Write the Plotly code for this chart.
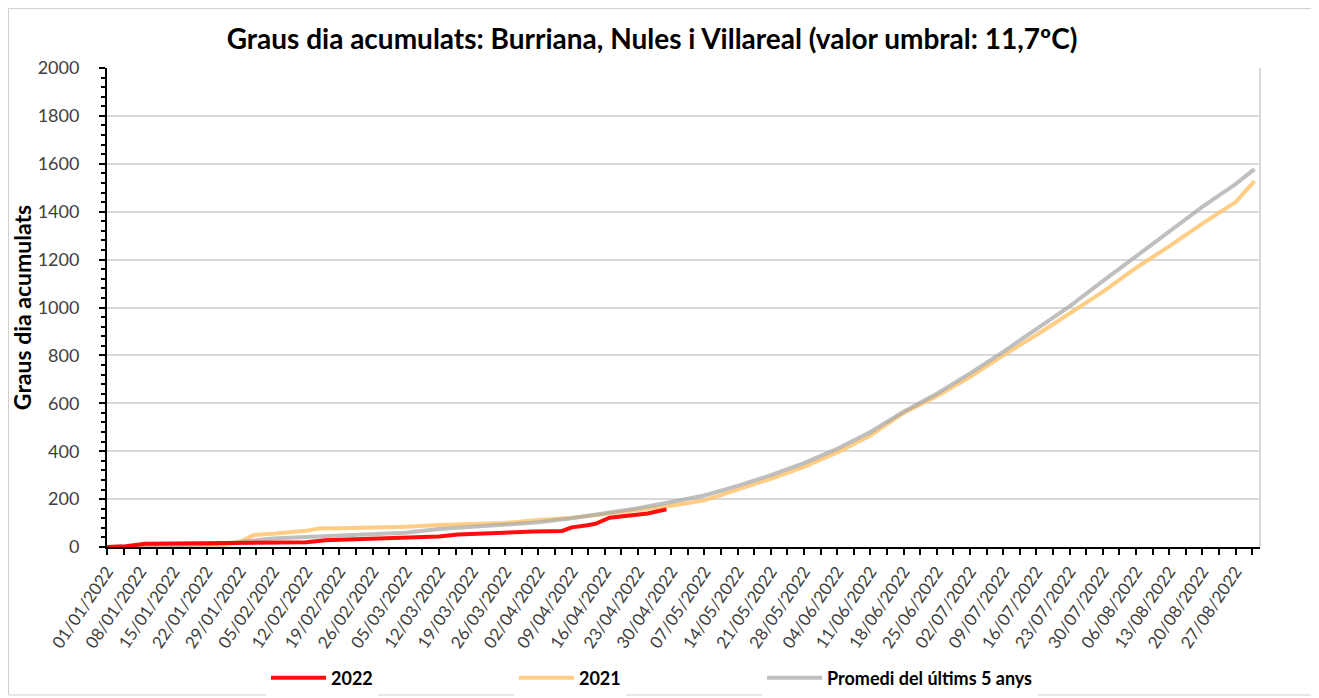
import plotly.graph_objects as go

# 2022 (red)
dates_2022 = ["2022-01-01", "2022-01-05", "2022-01-09", "2022-01-15", "2022-01-22", "2022-01-29",
              "2022-02-05", "2022-02-12", "2022-02-16", "2022-02-19", "2022-02-26", "2022-03-05",
              "2022-03-08", "2022-03-12", "2022-03-16", "2022-03-19", "2022-03-26", "2022-04-01",
              "2022-04-07", "2022-04-09", "2022-04-12", "2022-04-14", "2022-04-17", "2022-04-21",
              "2022-04-25", "2022-04-29"]
vals_2022 = [0, 3, 14, 15, 16, 16,
             18, 20, 28, 30, 33, 36,
             38, 44, 52, 55, 58, 65,
             67, 82, 90, 97, 122, 132,
             140, 157]

# 2021 (orange)
dates_2021 = ["2022-01-01", "2022-01-08", "2022-01-15", "2022-01-22", "2022-01-26", "2022-01-29",
              "2022-02-01", "2022-02-05", "2022-02-12", "2022-02-15", "2022-02-19", "2022-02-26",
              "2022-03-05", "2022-03-12", "2022-03-19", "2022-03-26", "2022-04-02", "2022-04-09",
              "2022-04-16", "2022-04-23", "2022-04-30", "2022-05-07", "2022-05-14", "2022-05-21",
              "2022-05-28", "2022-06-04", "2022-06-11", "2022-06-18", "2022-06-25", "2022-07-02",
              "2022-07-09", "2022-07-16", "2022-07-23", "2022-07-30", "2022-08-06", "2022-08-13",
              "2022-08-20", "2022-08-27", "2022-08-31"]
vals_2021 = [0, 1, 2, 3, 8, 22,
             50, 55, 68, 78, 78, 80,
             85, 92, 97, 100, 113, 122,
             138, 155, 172, 195, 240, 285,
             335, 395, 465, 560, 630, 710,
             800, 885, 975, 1065, 1165, 1255,
             1350, 1440, 1528]

# Promedi del últims 5 anys (gray)
dates_avg = ["2022-01-01", "2022-01-08", "2022-01-15", "2022-01-22", "2022-01-29", "2022-02-05",
             "2022-02-12", "2022-02-19", "2022-02-26", "2022-03-05", "2022-03-12", "2022-03-19",
             "2022-03-26", "2022-04-02", "2022-04-09", "2022-04-16", "2022-04-23", "2022-04-30",
             "2022-05-07", "2022-05-14", "2022-05-21", "2022-05-28", "2022-06-04", "2022-06-11",
             "2022-06-18", "2022-06-25", "2022-07-02", "2022-07-09", "2022-07-16", "2022-07-23",
             "2022-07-30", "2022-08-06", "2022-08-13", "2022-08-20", "2022-08-27", "2022-08-31"]
vals_avg = [0, 3, 7, 12, 20, 36,
            42, 48, 53, 60, 75, 85,
            92, 103, 120, 140, 162, 188,
            215, 255, 300, 350, 410, 480,
            565, 640, 725, 815, 910, 1005,
            1110, 1215, 1320, 1420, 1515, 1578]

DAY = 86400000

fig = go.Figure()
fig.add_trace(go.Scatter(x=dates_2021, y=vals_2021, mode="lines", name="2021", legend="legend2",
                         line=dict(color="rgba(255,196,110,0.85)", width=4)))
fig.add_trace(go.Scatter(x=dates_avg, y=vals_avg, mode="lines", name="Promedi del últims 5 anys",
                         legend="legend3", line=dict(color="rgba(170,170,170,0.75)", width=4)))
fig.add_trace(go.Scatter(x=dates_2022, y=vals_2022, mode="lines", name="2022", legend="legend",
                         line=dict(color="rgba(255,0,0,0.95)", width=4)))

# the page body has an 8px margin, so the figure is placed at (8, 8)
leg_font = dict(size=18, color="black", weight="bold")
leg_y = 0.0401
fig.update_layout(
    width=1319, height=698,
    paper_bgcolor="white", plot_bgcolor="white",
    margin=dict(l=99, r=67, t=60, b=159),
    font=dict(family="Lato, Open Sans, sans-serif", color="#404040"),
    title=dict(text="<b>Graus dia acumulats: Burriana, Nules i Villareal (valor umbral: 11,7ºC)</b>",
               x=0.4883, xanchor="center", y=0.956, yanchor="middle",
               font=dict(size=28, color="black")),
    legend=dict(orientation="h", xref="container", yref="container", x=0.1956, y=leg_y,
                xanchor="left", yanchor="middle", font=leg_font, itemwidth=55),
    legend2=dict(orientation="h", xref="container", yref="container", x=0.3836, y=leg_y,
                 xanchor="left", yanchor="middle", font=leg_font, itemwidth=55),
    legend3=dict(orientation="h", xref="container", yref="container", x=0.5717, y=leg_y,
                 xanchor="left", yanchor="middle", font=leg_font, itemwidth=55),
    showlegend=True,
)

fig.update_xaxes(
    type="date", range=["2022-01-01", "2022-09-01 04:00"],
    tick0="2022-01-01", dtick=7 * DAY, tickformat="%d/%m/%Y", tickangle=-56,
    ticks="outside", ticklen=6, tickwidth=2, tickcolor="black",
    minor=dict(dtick=3.5 * DAY, tick0="2022-01-01", ticks="outside", ticklen=6,
               tickwidth=2, tickcolor="black"),
    showline=True, linecolor="black", linewidth=2, showgrid=False, zeroline=False,
    tickfont=dict(size=17, color="#404040"), automargin=False,
)
fig.update_yaxes(
    range=[0, 2000], dtick=200,
    ticks="outside", ticklen=6, tickwidth=2, tickcolor="black",
    minor=dict(dtick=40, ticks="outside", ticklen=4, tickwidth=1.5, tickcolor="black"),
    showline=True, linecolor="black", linewidth=2,
    showgrid=True, gridcolor="#d9d9d9", gridwidth=1.5, zeroline=False,
    tickfont=dict(size=18, color="#404040"), ticklabelstandoff=16,
    title=dict(text="<b>Graus dia acumulats</b>", font=dict(size=23, color="black"), standoff=6),
    automargin=False,
)

# right border of plot area and outer chart border
fig.add_shape(type="line", xref="paper", yref="paper", x0=1, x1=1, y0=0, y1=1,
              line=dict(color="#d9d9d9", width=2))
fig.add_shape(type="rect", xref="paper", yref="paper",
              x0=-98.5 / 1153, x1=1 + 57 / 1153, y0=-148 / 479, y1=1 + 59.5 / 479,
              line=dict(color="#d0d0d0", width=1))

fig.write_html("out.html")
